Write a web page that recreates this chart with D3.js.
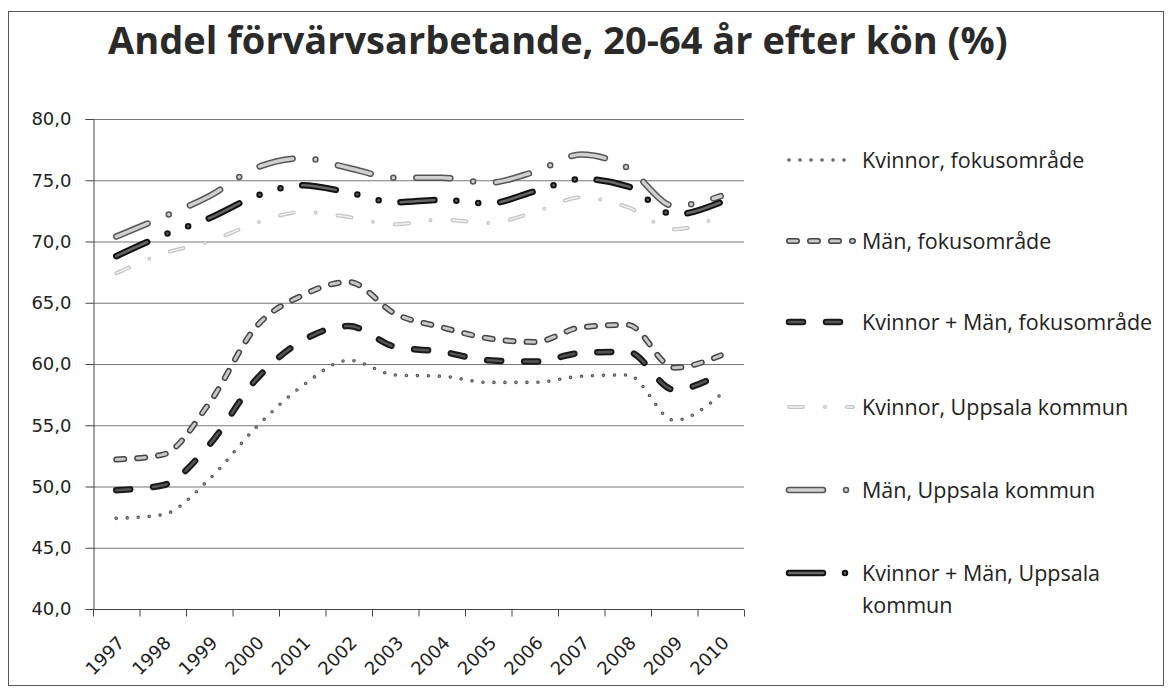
<!DOCTYPE html>
<html>
<head>
<meta charset="utf-8">
<script src="https://cdn.jsdelivr.net/npm/d3@7"></script>
<style>
  body { margin: 0; background: #fff; }
  svg { display: block; }
</style>
</head>
<body>
<svg id="chart" width="1172" height="693"></svg>
<script>
// values (%)
const years = ["1997","1998","1999","2000","2001","2002","2003","2004","2005","2006","2007","2008","2009","2010"];
const kvinnorFokus   = [47.4, 47.7, 50.6, 54.8, 58.2, 60.3, 59.1, 59.0, 58.5, 58.5, 59.0, 59.1, 55.4, 57.5];
const manFokus       = [52.2, 52.6, 56.8, 63.0, 65.6, 66.7, 64.1, 63.0, 62.1, 61.8, 63.0, 63.2, 59.7, 60.7];
const totalFokus     = [49.7, 50.1, 53.4, 58.7, 61.9, 63.1, 61.4, 61.0, 60.3, 60.2, 60.9, 61.0, 57.9, 59.2];
const kvinnorUppsala = [67.4, 69.0, 70.0, 71.5, 72.4, 72.0, 71.4, 71.8, 71.5, 72.4, 73.6, 72.8, 71.0, 72.1];
const manUppsala     = [70.4, 72.0, 73.7, 76.0, 76.8, 76.0, 75.2, 75.2, 74.8, 75.7, 77.1, 76.0, 72.9, 73.7];
const totalUppsala   = [68.8, 70.5, 71.9, 73.7, 74.6, 74.0, 73.2, 73.4, 73.1, 74.1, 75.1, 74.5, 72.2, 73.2];
const yTicks = [40, 45, 50, 55, 60, 65, 70, 75, 80];

const seriesNames = [
  "Kvinnor, fokusområde",
  "Män, fokusområde",
  "Kvinnor + Män, fokusområde",
  "Kvinnor, Uppsala kommun",
  "Män, Uppsala kommun",
  "Kvinnor + Män, Uppsala kommun"
];

// line looks: dark outer stroke with lighter core, same dash pattern
const styles = [
  { outer: "#555", ow: 3.6, inner: "#bdbdbd", iw: 1.2, dash: "0 11" },
  { outer: "#444", ow: 6,   inner: "#c8c8c8", iw: 3,   dash: "8 13" },
  { outer: "#1a1a1a", ow: 6.5, inner: "#555", iw: 2.5, dash: "14 23" },
  { outer: "#c4c4c4", ow: 4,  inner: "#f2f2f2", iw: 1.5, dash: "14 22 0 22" },
  { outer: "#555", ow: 6.5, inner: "#d0d0d0", iw: 3.5, dash: "34 23 0 23" },
  { outer: "#111", ow: 6.5, inner: "#666", iw: 2.5, dash: "34 22 0 22 0 22" }
];

const series = [kvinnorFokus, manFokus, totalFokus, kvinnorUppsala, manUppsala, totalUppsala];

const svg = d3.select("#chart");
const plotLeft = 93, plotRight = 744, plotTop = 119, plotBottom = 609;

// outer frame
svg.append("rect")
  .attr("x", 8.5).attr("y", 11.5)
  .attr("width", 1155).attr("height", 674)
  .attr("fill", "none").attr("stroke", "#555").attr("stroke-width", 1);

svg.append("text")
  .attr("x", 108).attr("y", 54)
  .attr("font-family", "Open Sans")
  .attr("font-weight", 700)
  .attr("font-size", 38)
  .attr("fill", "#2a2a2a")
  .text("Andel förvärvsarbetande, 20-64 år efter kön (%)");

const x = d3.scaleBand().domain(years).range([plotLeft, plotRight]);
const y = d3.scaleLinear().domain([40, 80]).range([plotBottom, plotTop]);
const cx = d => x(d) + x.bandwidth() / 2;

const sv = d3.formatLocale({ decimal: ",", thousands: " ", grouping: [3], currency: ["", " kr"] });
const fmt = sv.format(".1f");

// gridlines
svg.append("g")
  .selectAll("line")
  .data(yTicks.slice(1))
  .join("line")
  .attr("x1", plotLeft).attr("x2", plotRight)
  .attr("y1", d => y(d) + 0.5).attr("y2", d => y(d) + 0.5)
  .attr("stroke", "#777").attr("stroke-width", 1);

// y axis
const yAxis = svg.append("g")
  .attr("transform", `translate(${plotLeft + 0.5},0)`)
  .call(d3.axisLeft(y).tickValues(yTicks).tickFormat(fmt).tickSize(8).tickPadding(14));
yAxis.select(".domain").attr("stroke", "#444");
yAxis.selectAll(".tick line").attr("stroke", "#444");
yAxis.selectAll("text")
  .attr("font-family", "DejaVu Sans")
  .attr("font-size", 18)
  .attr("fill", "#222");

// x axis with boundary ticks
const xAxis = svg.append("g").attr("transform", `translate(0,${plotBottom + 0.5})`);
xAxis.append("line")
  .attr("x1", plotLeft).attr("x2", plotRight)
  .attr("stroke", "#444");
xAxis.selectAll("line.tk")
  .data(d3.range(years.length + 1))
  .join("line")
  .attr("class", "tk")
  .attr("x1", i => plotLeft + i * x.step() + 0.5)
  .attr("x2", i => plotLeft + i * x.step() + 0.5)
  .attr("y1", 0).attr("y2", 7)
  .attr("stroke", "#444");
xAxis.selectAll("text")
  .data(years)
  .join("text")
  .attr("transform", d => `translate(${cx(d) + 5},${30}) rotate(-45)`)
  .attr("text-anchor", "end")
  .attr("dy", "0.35em")
  .attr("font-family", "DejaVu Sans")
  .attr("font-size", 18)
  .attr("fill", "#222")
  .text(d => d);

// lines
const line = d3.line()
  .x((d, i) => cx(years[i]))
  .y(d => y(d))
  .curve(d3.curveMonotoneX);

function stroked(g, s, pathD) {
  g.append("path").attr("d", pathD)
    .attr("fill", "none").attr("stroke", s.outer).attr("stroke-width", s.ow)
    .attr("stroke-linecap", "round").attr("stroke-linejoin", "round")
    .attr("stroke-dasharray", s.dash);
  g.append("path").attr("d", pathD)
    .attr("fill", "none").attr("stroke", s.inner).attr("stroke-width", s.iw)
    .attr("stroke-linecap", "round").attr("stroke-linejoin", "round")
    .attr("stroke-dasharray", s.dash);
}

const plot = svg.append("g");
[3, 0, 1, 2, 4, 5].forEach(k => {
  stroked(plot.append("g"), styles[k], line(series[k]));
});

// legend
const legY = [160, 241, 322, 407, 490, 573];
const legend = svg.append("g");
seriesNames.forEach((name, k) => {
  const g = legend.append("g");
  stroked(g, styles[k], `M789,${legY[k]}L853,${legY[k]}`);
  const t = g.append("text")
    .attr("x", 862).attr("y", legY[k])
    .attr("dy", "0.35em")
    .attr("font-family", "Open Sans")
    .attr("font-size", 21.5)
    .attr("fill", "#222");
  if (k === 5) {
    t.text("Kvinnor + Män, Uppsala");
    g.append("text")
      .attr("x", 862).attr("y", legY[k] + 32)
      .attr("dy", "0.35em")
      .attr("font-family", "Open Sans")
      .attr("font-size", 21.5)
      .attr("fill", "#222")
      .text("kommun");
  } else {
    t.text(name);
  }
});
</script>
</body>
</html>
